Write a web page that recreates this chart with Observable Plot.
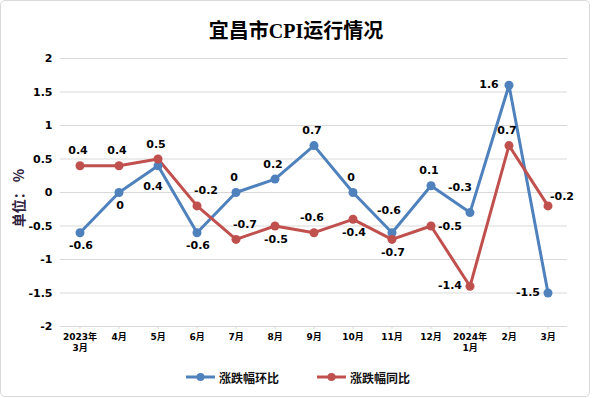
<!DOCTYPE html>
<html>
<head>
<meta charset="utf-8">
<script src="https://cdn.jsdelivr.net/npm/d3@7"></script>
<script src="https://cdn.jsdelivr.net/npm/@observablehq/plot@0.6"></script>
<style>
  html, body { margin: 0; padding: 0; background: #fff; }
  #wrap { position: relative; width: 592px; height: 398px; overflow: hidden; background: #fff; }
  #frame { position: absolute; left: 0; top: 0; width: 588px; height: 395px; border: 1px solid #d9d9d9; border-radius: 5px; pointer-events: none; }
  #title { position: absolute; left: 0; top: 0; width: 592px; height: 62px; line-height: 62px; text-align: center;
           font-family: "Liberation Serif", "DejaVu Serif", "Noto Sans CJK SC", serif; font-weight: bold; font-size: 20px; color: #000; }
  #plot { position: absolute; left: 0; top: 44px; }
  #ylab { position: absolute; left: 18px; top: 198px; transform: translate(-50%, -50%) rotate(-90deg); white-space: nowrap;
          font-family: "Noto Sans CJK SC", sans-serif; font-size: 14px; font-weight: bold; color: #2e2140; }
  #legend { position: absolute; left: 0; top: 368px; width: 596px; height: 18px; display: flex; justify-content: center; gap: 38px;
            font-family: "Noto Sans CJK SC", sans-serif; font-size: 12px; font-weight: bold; color: #111; }
  .item { display: flex; align-items: center; gap: 4px; }
  .item svg { display: block; }
</style>
</head>
<body>
<div id="wrap">
  <div id="title"></div>
  <div id="plot"></div>
  <div id="ylab"></div>
  <div id="legend"></div>
  <div id="frame"></div>
</div>
<script>
// ---- data ----
const chartTitle = "宜昌市CPI运行情况";
const yLabel = "单位： %";
const months = ["2023年\n3月", "4月", "5月", "6月", "7月", "8月", "9月", "10月", "11月", "12月", "2024年\n1月", "2月", "3月"];
const seriesNames = ["涨跌幅环比", "涨跌幅同比"];
const seriesColors = ["#4f81bd", "#c0504d"];
const momValues = [-0.6, 0, 0.4, -0.6, 0, 0.2, 0.7, 0, -0.6, 0.1, -0.3, 1.6, -1.5];
const yoyValues = [0.4, 0.4, 0.5, -0.2, -0.7, -0.5, -0.6, -0.4, -0.7, -0.5, -1.4, 0.7, -0.2];
const yTicks = [-2, -1.5, -1, -0.5, 0, 0.5, 1, 1.5, 2];
// label placement keywords (where each data label sits relative to its point)
const momPlace = ["b", "b", "b2", "b", "t", "t", "t", "t", "t2", "t", "tl", "l", "l"];
const yoyPlace = ["t", "t", "t", "tr", "tr", "b", "t", "b", "b", "r", "l", "t", "rt"];

// ---- build rows ----
const rows = [];
months.forEach((m, i) => rows.push({month: m, value: momValues[i], series: seriesNames[0], place: momPlace[i]}));
months.forEach((m, i) => rows.push({month: m, value: yoyValues[i], series: seriesNames[1], place: yoyPlace[i]}));

const placeOffsets = {
  t: [-2, -15], t2: [-3, -22], tl: [-10, -25], tr: [9, -15], rt: [14, -9],
  b: [1, 13], b2: [-5, 21], l: [-20, -1], r: [19, 0]
};

const font = "'DejaVu Sans', 'Noto Sans CJK SC', sans-serif";

const chart = Plot.plot({
  width: 592,
  height: 316,
  marginTop: 14,
  marginBottom: 34,
  marginLeft: 60,
  marginRight: 25,
  style: {fontFamily: font, overflow: "visible", background: "transparent"},
  x: {type: "band", domain: months, padding: 0},
  y: {domain: [-2, 2]},
  color: {domain: seriesNames, range: seriesColors},
  marks: [
    Plot.gridY(yTicks, {stroke: "#d9d9d9", strokeOpacity: 1, strokeWidth: 1}),
    Plot.ruleY([-2], {stroke: "#d9d9d9", strokeWidth: 1}),
    Plot.axisY(yTicks, {tickSize: 0, tickPadding: 8, tickFormat: d => String(d), fontSize: 11, fontWeight: "bold", label: null}),
    Plot.axisX({tickSize: 3, tickPadding: 3, stroke: "#d9d9d9", fontSize: 9, fontWeight: "bold", lineHeight: 1.2, label: null}),
    Plot.line(rows, {x: "month", y: "value", z: "series", stroke: "series", strokeWidth: 3, curve: "linear"}),
    Plot.dot(rows, {x: "month", y: "value", fill: "series", r: 4.5, stroke: null}),
    ...Object.entries(placeOffsets).map(([k, [dx, dy]]) =>
      Plot.text(rows, {filter: d => d.place === k, x: "month", y: "value", text: d => String(d.value),
                       dx, dy, fontSize: 11, fontWeight: "bold", fill: "#000"}))
  ]
});
document.getElementById("plot").appendChild(chart);
document.getElementById("title").textContent = chartTitle;
document.getElementById("ylab").textContent = yLabel;

// legend
const legend = document.getElementById("legend");
seriesNames.forEach((name, i) => {
  const item = document.createElement("div");
  item.className = "item";
  const ns = "http://www.w3.org/2000/svg";
  const s = document.createElementNS(ns, "svg");
  s.setAttribute("width", 29); s.setAttribute("height", 12);
  const ln = document.createElementNS(ns, "line");
  ln.setAttribute("x1", 0); ln.setAttribute("x2", 29); ln.setAttribute("y1", 6); ln.setAttribute("y2", 6);
  ln.setAttribute("stroke", seriesColors[i]); ln.setAttribute("stroke-width", 3);
  const c = document.createElementNS(ns, "circle");
  c.setAttribute("cx", 14.5); c.setAttribute("cy", 6); c.setAttribute("r", 4); c.setAttribute("fill", seriesColors[i]);
  s.appendChild(ln); s.appendChild(c);
  const t = document.createElement("span");
  t.textContent = name;
  item.appendChild(s); item.appendChild(t);
  legend.appendChild(item);
});
</script>
</body>
</html>
